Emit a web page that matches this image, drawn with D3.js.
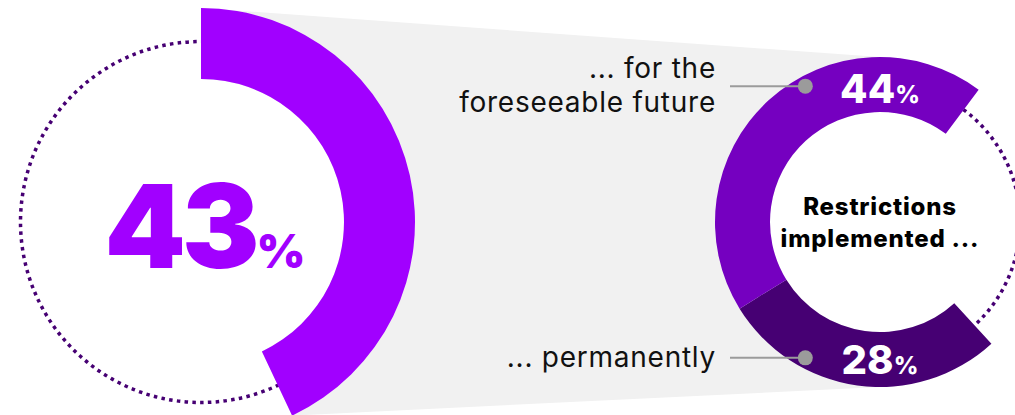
<!DOCTYPE html>
<html>
<head>
<meta charset="utf-8">
<script src="https://cdn.jsdelivr.net/npm/d3@7"></script>
<style>
  html, body { margin: 0; padding: 0; background: #fff; }
  svg { display: block; }
  text { font-family: Inter, "Open Sans", Roboto, sans-serif; }
</style>
</head>
<body>
<div id="d3-container"></div>
<script>
/**
 * DATA
 * */
const mainValue = [43];
const mainLabel = ["43", "%"];

const subCategories = ["... permanently", "... for the foreseeable future"];
const subValues = [28, 44];
const subLabelLines = [["... permanently"], ["... for the", "foreseeable future"]];
const centerLines = ["Restrictions", "implemented ..."];

/**
 * CONSTANTS
 * */
const width = 1015,
  height = 415;

const colors = {
  main: "#a100ff",
  sub: ["#460073", "#7500c0"],
  dots: "#460073",
  band: "#f1f1f1",
  leader: "#9b9b9b"
};

const left = { cx: 201, cy: 222, outer: 214, inner: 143, dotted: 180.5 };
const right = { cx: 880, cy: 222, outer: 165, inner: 110, dotted: 140 };

const angle = d3.scaleLinear().domain([0, 100]).range([0, 2 * Math.PI]);

const polar = (c, r, a) => [c.cx + r * Math.sin(a), c.cy - r * Math.cos(a)];

const svg = d3.select("#d3-container")
  .append("svg")
  .attr("width", width)
  .attr("height", height);

// grey connecting band
const mainEnd = angle(mainValue[0]);
const band = [
  polar(left, left.outer, 0),
  polar(right, right.outer, 0),
  polar(right, right.outer, Math.PI),
  polar(left, left.outer, mainEnd),
  [left.cx, left.cy]
];
svg.append("path")
  .attr("d", d3.line()(band) + "Z")
  .attr("fill", colors.band);

// white insides
[left, right].forEach(c => {
  svg.append("circle")
    .attr("cx", c.cx).attr("cy", c.cy).attr("r", c.inner)
    .attr("fill", "#fff");
});

// dotted rings
[left, right].forEach(c => {
  svg.append("circle")
    .attr("cx", c.cx).attr("cy", c.cy).attr("r", c.dotted)
    .attr("fill", "none")
    .attr("stroke", colors.dots)
    .attr("stroke-width", 3.5)
    .attr("stroke-dasharray", "3.5 4.3");
});

// LEFT DONUT
const leftArc = d3.arc().innerRadius(left.inner).outerRadius(left.outer);
svg.append("path")
  .attr("transform", `translate(${left.cx},${left.cy})`)
  .attr("d", leftArc({ startAngle: 0, endAngle: mainEnd }))
  .attr("fill", colors.main);

const big = svg.append("text")
  .attr("x", 205)
  .attr("y", 268)
  .attr("text-anchor", "middle")
  .attr("fill", colors.main)
  .attr("font-weight", 900);
big.append("tspan").attr("font-size", 116).attr("letter-spacing", -4).text(mainLabel[0]);
big.append("tspan").attr("font-size", 47).attr("dx", 1).text(mainLabel[1]);

// RIGHT DONUT
const gapCenter = angle(24.2); // middle of the empty part, ~3 o'clock
const total = d3.sum(subValues);
const start = gapCenter + angle(100 - total) / 2;
const pie = d3.pie().sort(null).value(d => d)
  .startAngle(start)
  .endAngle(start + angle(total));
const slices = pie(subValues);

const rightArc = d3.arc().innerRadius(right.inner).outerRadius(right.outer);
const rg = svg.append("g").attr("transform", `translate(${right.cx},${right.cy})`);
rg.selectAll("path")
  .data(slices)
  .join("path")
  .attr("d", rightArc)
  .attr("fill", (d, i) => colors.sub[i]);

// value labels: bottom for first, top for second
const midR = (right.inner + right.outer) / 2;
const labelY = [right.cy + midR + 14, right.cy - midR + 18];
subValues.forEach((v, i) => {
  const t = svg.append("text")
    .attr("x", right.cx)
    .attr("y", labelY[i])
    .attr("text-anchor", "middle")
    .attr("fill", "#fff")
    .attr("font-weight", 800);
  t.append("tspan").attr("font-size", 40).text(v);
  t.append("tspan").attr("font-size", 24).text("%");
});

// centre text
svg.append("text")
  .attr("text-anchor", "middle")
  .attr("font-weight", 800)
  .attr("font-size", 24)
  .attr("letter-spacing", 0.8)
  .attr("fill", "#000")
  .selectAll("tspan")
  .data(centerLines)
  .join("tspan")
  .attr("x", right.cx)
  .attr("y", (d, i) => 215 + i * 32)
  .text(d => d);

// leader dots, lines and category labels
const leaderAngles = [angle(58), angle(92)];
subLabelLines.forEach((lines, i) => {
  const [dx, dy] = polar(right, 155, leaderAngles[i]);
  svg.append("line")
    .attr("x1", 730).attr("x2", dx)
    .attr("y1", dy).attr("y2", dy)
    .attr("stroke", colors.leader)
    .attr("stroke-width", 2);
  svg.append("circle")
    .attr("cx", dx).attr("cy", dy).attr("r", 7.5)
    .attr("fill", colors.leader);
  const baseY = dy + 9 - (lines.length - 1) * 34 / 2;
  svg.append("text")
    .attr("text-anchor", "end")
    .attr("font-size", 28)
    .attr("letter-spacing", 0.75)
    .attr("fill", "#111")
    .selectAll("tspan")
    .data(lines)
    .join("tspan")
    .attr("x", 716)
    .attr("y", (d, j) => baseY + j * 34)
    .text(d => d);
});
</script>
</body>
</html>
